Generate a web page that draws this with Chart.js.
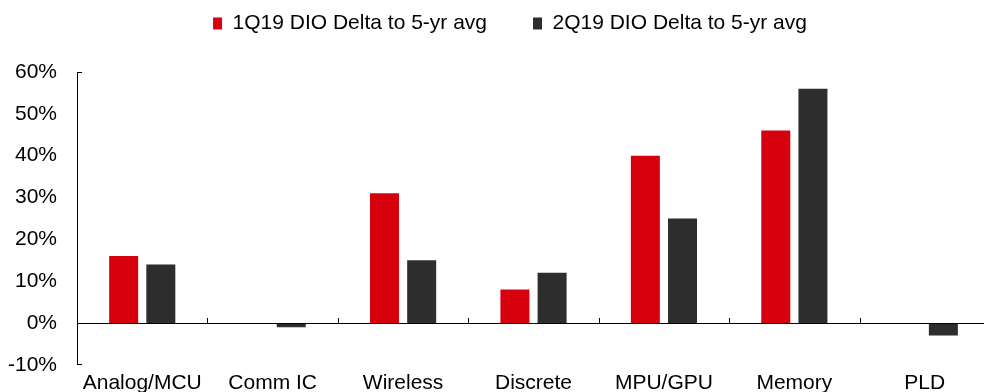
<!DOCTYPE html>
<html>
<head>
<meta charset="utf-8">
<script src="https://cdn.jsdelivr.net/npm/chart.js@4"></script>
<style>
  html, body { margin: 0; padding: 0; background: #fff; overflow: hidden; }
  #wrap { width: 990px; height: 402px; position: relative; }
</style>
</head>
<body>
<div id="wrap"><canvas id="dioChart"></canvas></div>
<script>
const categories = ['Analog/MCU', 'Comm IC', 'Wireless', 'Discrete', 'MPU/GPU', 'Memory', 'PLD'];
const q1Delta = [16, 0, 31, 8, 40, 46, 0];
const q2Delta = [14, -1, 15, 12, 25, 56, -3];
const yTicks = [-10, 0, 10, 20, 30, 40, 50, 60];

Chart.defaults.font.family = '"Liberation Sans", Arial, sans-serif';
Chart.defaults.color = '#000';

// extra room under the legend, and nudge it a bit right
const legendGap = {
    id: 'legendGap',
    beforeInit(chart) {
        const fit = chart.legend.fit;
        chart.legend.fit = function () {
            fit.bind(chart.legend)();
            this.height += 28;
        };
    },
    afterLayout(chart) {
        chart.legend.left += 21;
        chart.legend.right += 21;
    }
};

// zero line with small upward separators between categories, plus y axis corner stubs
const axisLines = {
    id: 'axisLines',
    afterDatasetsDraw(chart) {
        const { ctx, chartArea, scales } = chart;
        const y0 = scales.y.getPixelForValue(0);
        const step = (chartArea.right - chartArea.left) / categories.length;
        ctx.save();
        ctx.strokeStyle = '#000';
        ctx.lineWidth = 1;
        ctx.beginPath();
        ctx.moveTo(chartArea.left, Math.round(y0) + 0.5);
        ctx.lineTo(chartArea.right, Math.round(y0) + 0.5);
        for (let i = 1; i <= categories.length; i++) {
            const x = Math.round(chartArea.left + i * step) + 0.5;
            ctx.moveTo(x, y0);
            ctx.lineTo(x, y0 - 5);
        }
        const yTop = scales.y.getPixelForValue(yTicks[yTicks.length - 1]);
        const yBot = scales.y.getPixelForValue(yTicks[0]);
        ctx.moveTo(chartArea.left, Math.round(yTop) + 0.5);
        ctx.lineTo(chartArea.left + 5, Math.round(yTop) + 0.5);
        ctx.moveTo(chartArea.left, Math.round(yBot) - 0.5);
        ctx.lineTo(chartArea.left + 5, Math.round(yBot) - 0.5);
        ctx.stroke();
        ctx.restore();
    }
};

new Chart(document.getElementById('dioChart'), {
    type: 'bar',
    data: {
        labels: categories,
        datasets: [{
            label: '1Q19 DIO Delta to 5-yr avg',
            data: q1Delta,
            backgroundColor: '#d7000f',
            borderWidth: 0
        }, {
            label: '2Q19 DIO Delta to 5-yr avg',
            data: q2Delta,
            backgroundColor: '#2d2d2d',
            borderWidth: 0
        }]
    },
    options: {
        responsive: true,
        maintainAspectRatio: false,
        animation: false,
        datasets: {
            bar: { categoryPercentage: 0.57, barPercentage: 0.78 }
        },
        layout: { padding: { left: -12, right: 0, top: -33, bottom: 0 } },
        plugins: {
            tooltip: { enabled: false },
            legend: {
                position: 'top',
                labels: {
                    boxWidth: 9,
                    boxHeight: 12,
                    padding: 46,
                    font: { size: 21 },
                    color: '#000'
                }
            }
        },
        scales: {
            x: {
                grid: { display: false, drawTicks: false },
                border: { display: false },
                ticks: { font: { size: 21 }, color: '#000', padding: 6, maxRotation: 0 }
            },
            y: {
                min: -10,
                max: 60,
                afterBuildTicks(axis) { axis.ticks = yTicks.map(v => ({ value: v })); },
                grid: { display: false, drawTicks: false },
                border: { display: true, color: '#000', width: 1 },
                ticks: {
                    font: { size: 21 },
                    color: '#000',
                    padding: 20,
                    callback: v => v + '%'
                }
            }
        }
    },
    plugins: [legendGap, axisLines]
});
</script>
</body>
</html>
